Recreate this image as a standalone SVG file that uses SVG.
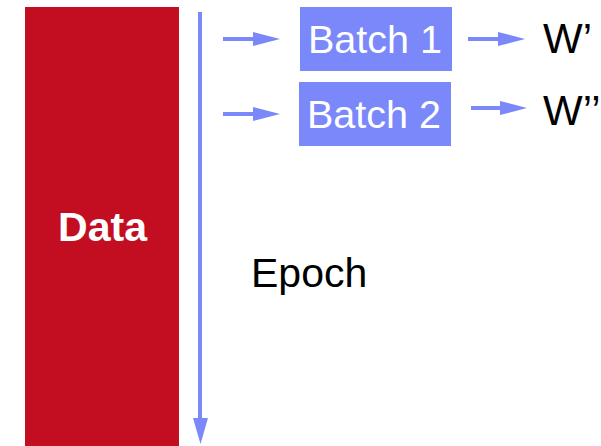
<svg xmlns="http://www.w3.org/2000/svg" width="601" height="446" viewBox="0 0 601 446">
<style>
.ln{stroke:#7B88FA;stroke-width:4;fill:none}
.hd{fill:#7B88FA}
.bx{fill:#7B88FA}
.wt{fill:#fff;font-family:"Liberation Sans",Arial,sans-serif}
.bk{fill:#000;font-family:"Liberation Sans",Arial,sans-serif}
</style>
<rect width="601" height="446" fill="#fff"/>
<g id="data">
<rect x="25" y="7" width="154" height="439" fill="#C20E20"/>
<text class="wt" x="102.5" y="241" font-size="40" font-weight="bold" text-anchor="middle" textLength="89" lengthAdjust="spacingAndGlyphs">Data</text>
</g>
<g id="batch1">
<rect class="bx" x="300" y="7" width="152" height="64"/>
<text class="wt" x="375" y="53" font-size="39.5" text-anchor="middle">Batch 1</text>
</g>
<g id="batch2">
<rect class="bx" x="299" y="82" width="152" height="64"/>
<text class="wt" x="374" y="128" font-size="39.5" text-anchor="middle">Batch 2</text>
</g>
<g id="w1"><text class="bk" x="543" y="53" font-size="42">W’</text></g>
<g id="w2"><text class="bk" x="543" y="125" font-size="42">W’’</text></g>
<g id="epoch"><text class="bk" x="251" y="287" font-size="41">Epoch</text></g>
<g id="connectors">
<line class="ln" x1="200" y1="12" x2="200" y2="420" stroke-width="3.5"/>
<polygon class="hd" points="193,418 208,418 200.5,444"/>
<line class="ln" x1="223" y1="39" x2="256" y2="39"/>
<polygon class="hd" points="253,32 280,39 253,46"/>
<line class="ln" x1="223" y1="114" x2="256" y2="114"/>
<polygon class="hd" points="253,107 280,114 253,121"/>
<line class="ln" x1="468" y1="39" x2="501" y2="39"/>
<polygon class="hd" points="498,32 525,39 498,46"/>
<line class="ln" x1="471" y1="108" x2="503" y2="108"/>
<polygon class="hd" points="500,101 527,108 500,115"/>
</g>
</svg>
